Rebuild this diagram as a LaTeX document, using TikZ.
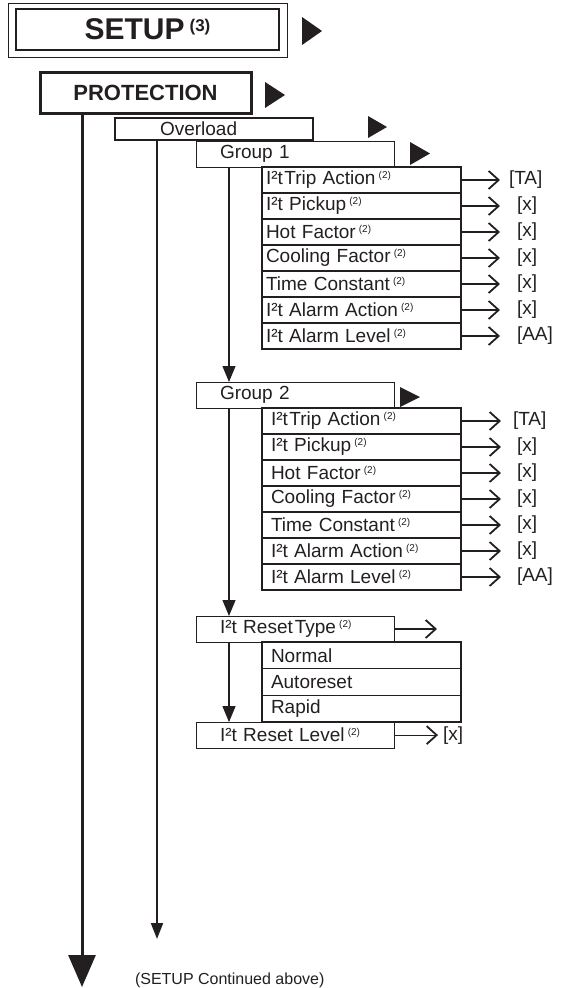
\documentclass[tikz,border=0pt]{standalone}
\usepackage{fontspec}
\setmainfont{Liberation Sans}
\usetikzlibrary{positioning, arrows.meta, calc}
\definecolor{ink}{HTML}{231F20}
\newcommand{\fnm}{\,\raisebox{6.5pt}{\fontsize{10}{10}\selectfont(2)}}
\newcommand{\menutri}[3]{\fill[ink] (#1) ++(0,-#2) -- ++(#3,#2) -- ++(-#3,#2) -- cycle;}

\begin{document}
\begin{tikzpicture}[x=1pt, y=-1pt,
    every node/.style={font=\fontsize{19}{22}\selectfont, text=ink, inner sep=0pt, outer sep=0pt},
    menubox/.style={rectangle, draw=ink, line width=1pt, minimum height=26pt,
      inner xsep=24pt, text width=150pt, align=left},
    itembox/.style={rectangle, draw=ink, line width=1.4pt, minimum height=26pt,
      inner xsep=4pt, text width=191pt, align=left},
    itemboxb/.style={itembox, inner xsep=9pt, text width=181pt},
    val/.style={font=\fontsize{19}{22}\selectfont},
    varr/.style={draw=ink, line width=1.1pt, -{Straight Barb[length=10pt, width=18pt, line width=1.8pt]}},
    down/.style={draw=ink, line width=1.2pt, -{Triangle[length=16pt, width=13pt]}}]

  \useasboundingbox (0,0) rectangle (563,988);

  % top menu
  \node[draw=ink, line width=2.2pt, minimum width=263pt, minimum height=41pt,
    font=\bfseries\fontsize{30}{34}\selectfont] (setup) at (147.5,29.5)
    {SETUP\,\raisebox{8pt}{\bfseries\fontsize{17}{17}\selectfont(3)}};
  \draw[ink, line width=0.9pt] ([shift={(-8,-6)}]setup.north west)
    rectangle ([shift={(8,7)}]setup.south east);
  \menutri{302,31}{14}{20}

  \node[draw=ink, line width=3pt, minimum width=211pt, minimum height=41pt,
    font=\bfseries\fontsize{22}{26}\selectfont] (prot) at (145.5,92.5) {PROTECTION};
  \menutri{265,95}{13}{20}

  \node[menubox, line width=2pt, minimum height=22pt, inner xsep=45pt, text width=108pt,
    anchor=north west] (ovl) at (115,118) {Overload};
  \menutri{368,127}{11}{19}

  % group 1
  \node[menubox, anchor=north west] (g1) at (196,141) {Group 1};
  \menutri{410,153.5}{11.5}{20}

  \node[itembox, below right=0pt and 66pt of g1.south west] (g1a) {I²t\kern1.5pt Trip Action\fnm};
  \node[itembox, below=0pt of g1a] (g1b) {I²t Pickup\fnm};
  \node[itembox, below=0pt of g1b] (g1c) {Hot Factor\fnm};
  \node[itembox, below=0pt of g1c] (g1d) {Cooling Factor\fnm};
  \node[itembox, below=0pt of g1d] (g1e) {Time Constant\fnm};
  \node[itembox, below=0pt of g1e] (g1f) {I²t Alarm Action\fnm};
  \node[itembox, below=0pt of g1f] (g1g) {I²t Alarm Level\fnm};

  \node[val, right=48pt of g1a] (g1av) {[TA]};
  \node[val, right=56pt of g1b] (g1bv) {[x]};
  \node[val, right=56pt of g1c] (g1cv) {[x]};
  \node[val, right=56pt of g1d] (g1dv) {[x]};
  \node[val, right=56pt of g1e] (g1ev) {[x]};
  \node[val, right=56pt of g1f] (g1fv) {[x]};
  \node[val, right=56pt of g1g] (g1gv) {[AA]};
  \draw[varr, shorten >=9pt] (g1a) -- (g1av);
  \draw[varr, shorten >=17pt] (g1b) -- (g1bv);
  \draw[varr, shorten >=17pt] (g1c) -- (g1cv);
  \draw[varr, shorten >=17pt] (g1d) -- (g1dv);
  \draw[varr, shorten >=17pt] (g1e) -- (g1ev);
  \draw[varr, shorten >=17pt] (g1f) -- (g1fv);
  \draw[varr, shorten >=17pt] (g1g) -- (g1gv);

  % group 2
  \node[menubox, anchor=north west] (g2) at (196,382) {Group 2};
  \menutri{400,397}{10}{20}

  \node[itemboxb, below right=0pt and 66pt of g2.south west] (g2a) {I²t\kern1.5pt Trip Action\fnm};
  \node[itemboxb, below=0pt of g2a] (g2b) {I²t Pickup\fnm};
  \node[itemboxb, below=0pt of g2b] (g2c) {Hot Factor\fnm};
  \node[itemboxb, below=0pt of g2c] (g2d) {Cooling Factor\fnm};
  \node[itemboxb, below=0pt of g2d] (g2e) {Time Constant\fnm};
  \node[itemboxb, below=0pt of g2e] (g2f) {I²t Alarm Action\fnm};
  \node[itemboxb, below=0pt of g2f] (g2g) {I²t Alarm Level\fnm};

  \node[val, right=52pt of g2a] (g2av) {[TA]};
  \node[val, right=56pt of g2b] (g2bv) {[x]};
  \node[val, right=56pt of g2c] (g2cv) {[x]};
  \node[val, right=56pt of g2d] (g2dv) {[x]};
  \node[val, right=56pt of g2e] (g2ev) {[x]};
  \node[val, right=56pt of g2f] (g2fv) {[x]};
  \node[val, right=56pt of g2g] (g2gv) {[AA]};
  \draw[varr, shorten >=12pt] (g2a) -- (g2av);
  \draw[varr, shorten >=16pt] (g2b) -- (g2bv);
  \draw[varr, shorten >=16pt] (g2c) -- (g2cv);
  \draw[varr, shorten >=16pt] (g2d) -- (g2dv);
  \draw[varr, shorten >=16pt] (g2e) -- (g2ev);
  \draw[varr, shorten >=16pt] (g2f) -- (g2fv);
  \draw[varr, shorten >=16pt] (g2g) -- (g2gv);

  % reset
  \node[menubox, anchor=north west] (rt) at (196,616) {I²t Reset\kern2pt Type\fnm};
  \node[itemboxb, minimum height=26.7pt, below right=0pt and 66pt of rt.south west] (nrm) {Normal};
  \node[itemboxb, minimum height=26.7pt, below=0pt of nrm] (aut) {Autoreset};
  \node[itemboxb, minimum height=26.7pt, below=0pt of aut] (rpd) {Rapid};
  \node[menubox, anchor=north west] (rl) at (rt.south west |- rpd.south) {I²t Reset Level\fnm};

  \coordinate (rtEnd) at (437,629);
  \draw[varr] (rt.east) -- (rtEnd);
  \node[val, right=49pt of rl] (rlv) {[x]};
  \draw[varr, shorten >=5pt] (rl) -- (rlv);

  % down lines
  \coordinate (grp) at (229,0);
  \draw[down] (g1.south -| grp) -- (g2.north -| grp);
  \draw[down] (g2.south -| grp) -- (rt.north -| grp);
  \draw[down] (rt.south -| grp) -- (rl.north -| grp);

  \coordinate (ovlEnd) at (157,939);
  \draw[down, line width=2pt, -{Triangle[length=16pt, width=12pt]}] (ovlEnd |- ovl.south) -- (ovlEnd);
  \coordinate (protEnd) at (82,987);
  \draw[down, line width=3pt, -{Triangle[length=32pt, width=27pt]}] (protEnd |- prot.south) -- (protEnd);

  \node[font=\fontsize{16}{18}\selectfont, anchor=west] (cont) at (135,980) {(SETUP Continued above)};
\end{tikzpicture}
\end{document}
